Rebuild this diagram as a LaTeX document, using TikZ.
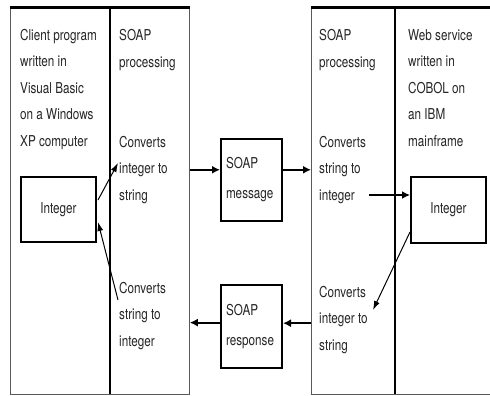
\documentclass[tikz,border=0pt]{standalone}
\usepackage{fontspec}
\setmainfont{TeX Gyre Heros}[FakeStretch=0.78]
\usetikzlibrary{arrows.meta}
\begin{document}
\begin{tikzpicture}[x=1pt,y=-1pt,
  txt/.style={anchor=base west,inner sep=0pt,align=left,text=black!85,
    font=\fontsize{15}{26.5}\selectfont},
  bigbox/.style={draw=black!65,line width=1.3pt,anchor=north west,inner sep=0pt},
  smallbox/.style={draw=black,line width=2pt,inner sep=0pt,text=black!85,
    font=\fontsize{15}{30}\selectfont},
  heavy/.style={line width=1.8pt,-{Latex[length=8pt,width=8pt]}},
  light/.style={line width=1pt,-{Latex[length=9pt,width=6pt]}}
]
\useasboundingbox[fill=white] (0,0) rectangle (490,396);
% big containers
\node[bigbox,minimum width=178.5pt,minimum height=386pt] (leftbox) at (10,8) {};
\node[bigbox,minimum width=200pt,minimum height=386pt] (rightbox) at (311,8) {};
\draw[line width=1.5pt] (110,8) -- (110,394);
\draw[line width=1.5pt] (395,8) -- (395,394);
\draw[line width=3pt] (leftbox.north west) -- (leftbox.north east);
\draw[line width=3pt] (rightbox.north west) -- (490,8);
% texts (anchored at the baseline of the last line)
\node[txt] (client) at (20,146) {Client program\\written in\\Visual Basic\\on a Windows\\XP computer};
\node[txt] (soapL) at (119,67) {SOAP\\processing};
\node[txt] (cisL) at (119,200) {Converts\\integer to\\string};
\node[txt] (csiL) at (119,346) {Converts\\string to\\integer};
\node[txt] (soapR) at (319,67) {SOAP\\processing};
\node[txt] (csiR) at (319,200) {Converts\\string to\\integer};
\node[txt] (cisR) at (319,350) {Converts\\integer to\\string};
\node[txt] (web) at (408,146) {Web service\\written in\\COBOL on\\an IBM\\mainframe};
% small boxes
\node[smallbox,minimum width=75pt,minimum height=65pt] (intL) at (58.5,209.5) {Integer};
\node[smallbox,minimum width=75pt,minimum height=66pt] (intR) at (448.5,210) {Integer};
\node[smallbox,minimum width=61pt,minimum height=82pt,text width=51pt,align=left] (msg) at (251.5,180) {SOAP\\message};
\node[smallbox,minimum width=61pt,minimum height=83pt,text width=51pt,align=left] (resp) at (251.5,326.5) {SOAP\\response};
% connectors
\draw[light] ([xshift=1pt,yshift=9.5pt]intL.east) -- ([xshift=-1pt,yshift=37pt]cisL.base west);
\draw[light] ([xshift=-1pt,yshift=46pt]csiL.base west) -- ([xshift=1pt,yshift=-12.5pt]intL.east);
\draw[heavy] (leftbox.east |- msg.162) -- (msg.162);
\draw[heavy] (msg.18) -- (rightbox.west |- msg.18);
\draw[heavy] ([xshift=-41pt,yshift=15pt]intR.west) -- ([yshift=15pt]intR.west);
\draw[light] ([yshift=-22pt]intR.west) -- ([xshift=54pt,yshift=40pt]cisR.base west);
\draw[heavy] (rightbox.west |- resp.6.5) -- (resp.6.5);
\draw[heavy] (resp.173.5) -- (leftbox.east |- resp.173.5);
\end{tikzpicture}
\end{document}
